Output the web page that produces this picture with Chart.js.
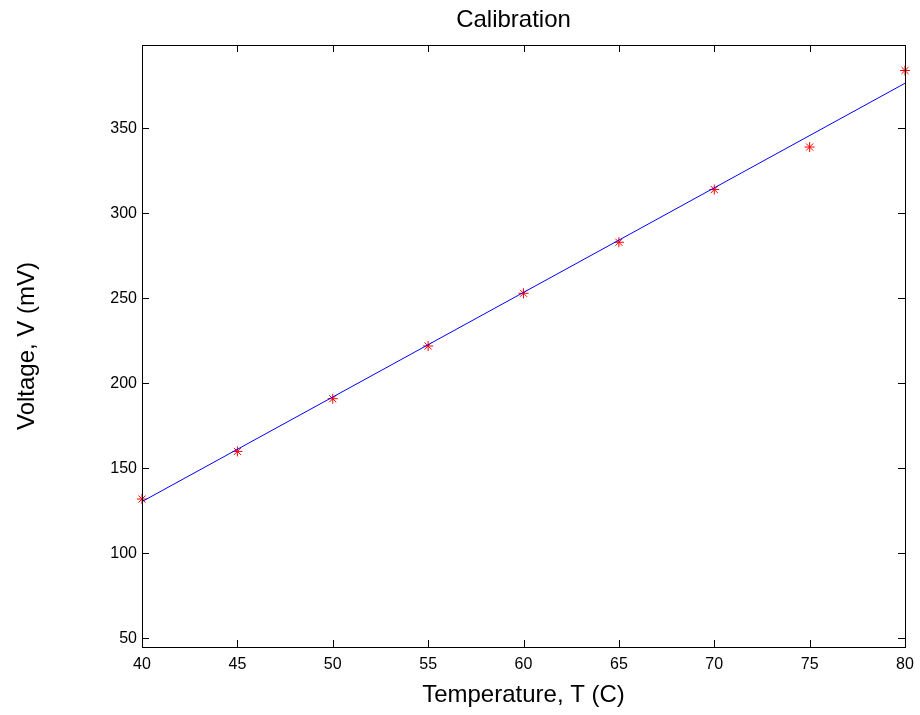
<!DOCTYPE html>
<html>
<head>
<meta charset="utf-8">
<script src="https://cdn.jsdelivr.net/npm/chart.js@4.4.0/dist/chart.umd.min.js"></script>
<style>
  html, body { margin: 0; padding: 0; background: #fff; }
  canvas { display: block; }
</style>
</head>
<body>
<canvas id="calib" width="920" height="715"></canvas>
<script>
// measured points
const temps = [40, 45, 50, 55, 60, 65, 70, 75, 80];
const voltages = [132, 160, 191, 222, 253, 283, 314, 339, 384];
// fitted line ends
const fitTemps = [40, 80];
const fitVoltages = [130.5, 376.5];
const xTicks = [40, 45, 50, 55, 60, 65, 70, 75, 80];
const yTicks = [50, 100, 150, 200, 250, 300, 350];

const FONT = "'Liberation Sans', Arial, Helvetica, sans-serif";

// matlab style box with ticks pointing inwards on all 4 sides
const boxTicks = {
  id: "boxTicks",
  afterDraw(chart) {
    const ctx = chart.ctx;
    const area = chart.chartArea;
    const x = chart.scales.x;
    const y = chart.scales.y;
    const len = 7;
    ctx.save();
    ctx.strokeStyle = "#000";
    ctx.lineWidth = 1;
    ctx.beginPath();
    x.ticks.forEach((t) => {
      const px = Math.round(x.getPixelForValue(t.value)) + 0.5;
      ctx.moveTo(px, area.bottom);
      ctx.lineTo(px, area.bottom - len);
      ctx.moveTo(px, area.top);
      ctx.lineTo(px, area.top + len);
    });
    y.ticks.forEach((t) => {
      const py = Math.round(y.getPixelForValue(t.value)) + 0.5;
      ctx.moveTo(area.left, py);
      ctx.lineTo(area.left + len, py);
      ctx.moveTo(area.right, py);
      ctx.lineTo(area.right - len, py);
    });
    ctx.stroke();
    ctx.strokeRect(area.left + 0.5, area.top + 0.5, area.right - area.left, area.bottom - area.top);
    ctx.restore();
  },
};

const ctx = document.getElementById("calib");

new Chart(ctx, {
  type: "scatter",
  data: {
    datasets: [
      {
        label: "fit",
        data: fitTemps.map((t, i) => ({ x: t, y: fitVoltages[i] })),
        showLine: true,
        borderColor: "#0000ff",
        borderWidth: 1,
        pointRadius: 0,
        clip: false,
      },
      {
        label: "measured",
        data: temps.map((t, i) => ({ x: t, y: voltages[i] })),
        pointStyle: "star",
        pointRadius: 5,
        borderColor: "#ff0000",
        backgroundColor: "#ff0000",
        borderWidth: 1,
        clip: false,
      },
    ],
  },
  options: {
    responsive: false,
    animation: false,
    layout: {
      padding: { left: 0, right: 15, top: 0, bottom: 0 },
    },
    plugins: {
      legend: { display: false },
      tooltip: { enabled: false },
      title: {
        display: true,
        fullSize: false, // center over the plot box, not the canvas
        text: "Calibration   ",
        color: "#000",
        font: { family: FONT, size: 24, weight: "normal" },
        padding: { top: 6, bottom: 10.2 },
      },
    },
    scales: {
      x: {
        type: "linear",
        min: 40,
        max: 80,
        afterBuildTicks: (scale) => {
          scale.ticks = xTicks.map((v) => ({ value: v }));
        },
        afterFit: (scale) => {
          scale.height = 68;
          scale.paddingLeft = 0;
          scale.paddingRight = 0;
        },
        grid: { display: false, drawTicks: false },
        border: { display: false },
        ticks: {
          color: "#000",
          padding: 8,
          maxRotation: 0,
          autoSkip: false,
          font: { family: FONT, size: 16 },
        },
        title: {
          display: true,
          text: "Temperature, T (C)",
          color: "#000",
          font: { family: FONT, size: 24 },
          padding: { top: 0, bottom: 5 },
        },
      },
      y: {
        type: "linear",
        min: 45,
        max: 399,
        afterBuildTicks: (scale) => {
          scale.ticks = yTicks.map((v) => ({ value: v }));
        },
        afterFit: (scale) => {
          scale.width = 142;
          scale.paddingTop = 0;
          scale.paddingBottom = 0;
        },
        grid: { display: false, drawTicks: false },
        border: { display: false },
        ticks: {
          color: "#000",
          padding: 5,
          autoSkip: false,
          font: { family: FONT, size: 16 },
        },
        title: {
          display: true,
          text: "Voltage, V (mV)",
          color: "#000",
          font: { family: FONT, size: 24 },
          padding: { top: 13, bottom: 0 },
        },
      },
    },
  },
  plugins: [boxTicks],
});
</script>
</body>
</html>
